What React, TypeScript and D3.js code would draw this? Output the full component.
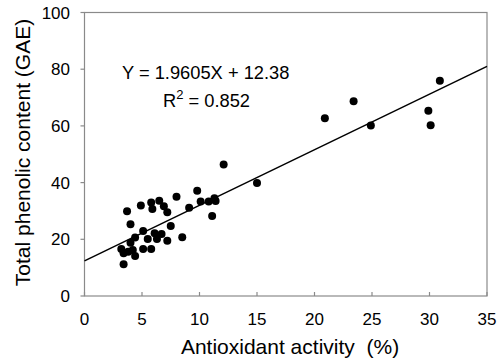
import { useRef, useEffect } from 'react';
import * as d3 from 'd3';

// antioxidant activity (%) vs total phenolic content (GAE)
const activity = [
  3.7, 4.9, 5.8, 6.5, 5.9, 6.9, 7.2, 8.0, 9.8, 9.1, 10.1, 10.8, 11.4, 11.1,
  4.0, 7.5, 5.1, 6.1, 6.7, 5.5, 6.3, 7.2, 8.5, 4.4, 4.0, 3.2, 3.4, 4.2, 5.1,
  5.8, 4.4, 3.4, 12.1, 15.0, 11.3, 20.9, 23.4, 24.9, 29.9, 30.1, 30.9, 3.8,
];
const phenolic = [
  29.9, 31.9, 33.0, 33.6, 30.7, 31.7, 29.5, 35.0, 37.1, 31.1, 33.3, 33.3, 33.5, 28.2,
  25.3, 24.7, 22.9, 22.1, 21.9, 20.1, 20.1, 19.5, 20.7, 20.6, 18.8, 16.6, 15.1, 16.2, 16.6,
  16.6, 14.1, 11.2, 46.4, 39.9, 34.5, 62.7, 68.7, 60.1, 65.3, 60.2, 75.9, 15.6,
];
const xTicks = [0, 5, 10, 15, 20, 25, 30, 35];
const yTicks = [0, 20, 40, 60, 80, 100];
const slope = 1.9605;
const intercept = 12.38;

const W = 504;
const H = 361;
const FONT = '"Liberation Sans", Arial, sans-serif';

export default function App() {
  const svgRef = useRef<SVGSVGElement>(null);

  useEffect(() => {
    const svg = d3.select(svgRef.current);
    svg.selectAll('*').remove();

    const x = d3.scaleLinear().domain([0, 35]).range([84.5, 487]);
    const y = d3.scaleLinear().domain([0, 100]).range([296, 12.5]);
    const axisColor = '#8a8a8a';

    // frame
    svg.append('rect')
      .attr('x', x(0)).attr('y', y(100))
      .attr('width', x(35) - x(0)).attr('height', y(0) - y(100))
      .attr('fill', 'none')
      .attr('stroke', axisColor)
      .attr('stroke-width', 1.2);

    // y ticks (outward)
    yTicks.forEach((t) => {
      svg.append('line')
        .attr('x1', x(0) - 4).attr('x2', x(0))
        .attr('y1', y(t)).attr('y2', y(t))
        .attr('stroke', axisColor).attr('stroke-width', 1.2);
      svg.append('text')
        .attr('x', 70).attr('y', y(t))
        .attr('dy', '0.36em')
        .attr('text-anchor', 'end')
        .attr('font-family', FONT)
        .attr('font-size', 17)
        .attr('fill', '#000')
        .text(t);
    });

    // x ticks (inward)
    xTicks.forEach((t) => {
      svg.append('line')
        .attr('x1', x(t)).attr('x2', x(t))
        .attr('y1', y(0) - 4).attr('y2', y(0))
        .attr('stroke', axisColor).attr('stroke-width', 1.2);
      svg.append('text')
        .attr('x', x(t)).attr('y', 325)
        .attr('text-anchor', 'middle')
        .attr('font-family', FONT)
        .attr('font-size', 17)
        .attr('fill', '#000')
        .text(t);
    });

    // regression line
    svg.append('line')
      .attr('x1', x(0)).attr('y1', y(intercept))
      .attr('x2', x(35)).attr('y2', y(slope * 35 + intercept))
      .attr('stroke', '#000')
      .attr('stroke-width', 1.5);

    // points
    svg.append('g')
      .selectAll('circle')
      .data(activity)
      .join('circle')
      .attr('cx', (d) => x(d))
      .attr('cy', (_, i) => y(phenolic[i]))
      .attr('r', 4)
      .attr('fill', '#000');

    // equation
    svg.append('text')
      .attr('x', 122).attr('y', 79)
      .attr('font-family', FONT)
      .attr('font-size', 18.3)
      .attr('fill', '#000')
      .text(`Y = ${slope}X + ${intercept}`);

    const r2 = svg.append('text')
      .attr('x', 163).attr('y', 107)
      .attr('font-family', FONT)
      .attr('font-size', 18.3)
      .attr('fill', '#000');
    r2.append('tspan').text('R');
    r2.append('tspan').attr('font-size', 13).attr('dy', -8).text('2');
    r2.append('tspan').attr('dy', 8).text(' = 0.852');

    // axis titles
    svg.append('text')
      .attr('x', 290).attr('y', 354)
      .attr('text-anchor', 'middle')
      .attr('font-family', FONT)
      .attr('font-size', 21)
      .attr('fill', '#000')
      .style('white-space', 'pre')
      .text('Antioxidant activity  (%)');

    svg.append('text')
      .attr('transform', `translate(30,${152.5}) rotate(-90)`)
      .attr('text-anchor', 'middle')
      .attr('font-family', FONT)
      .attr('font-size', 21)
      .attr('fill', '#000')
      .text('Total phenolic content (GAE)');
  }, []);

  return (
    <svg
      ref={svgRef}
      width={W}
      height={H}
      style={{ position: 'absolute', left: 0, top: 0, background: '#fff' }}
    />
  );
}
